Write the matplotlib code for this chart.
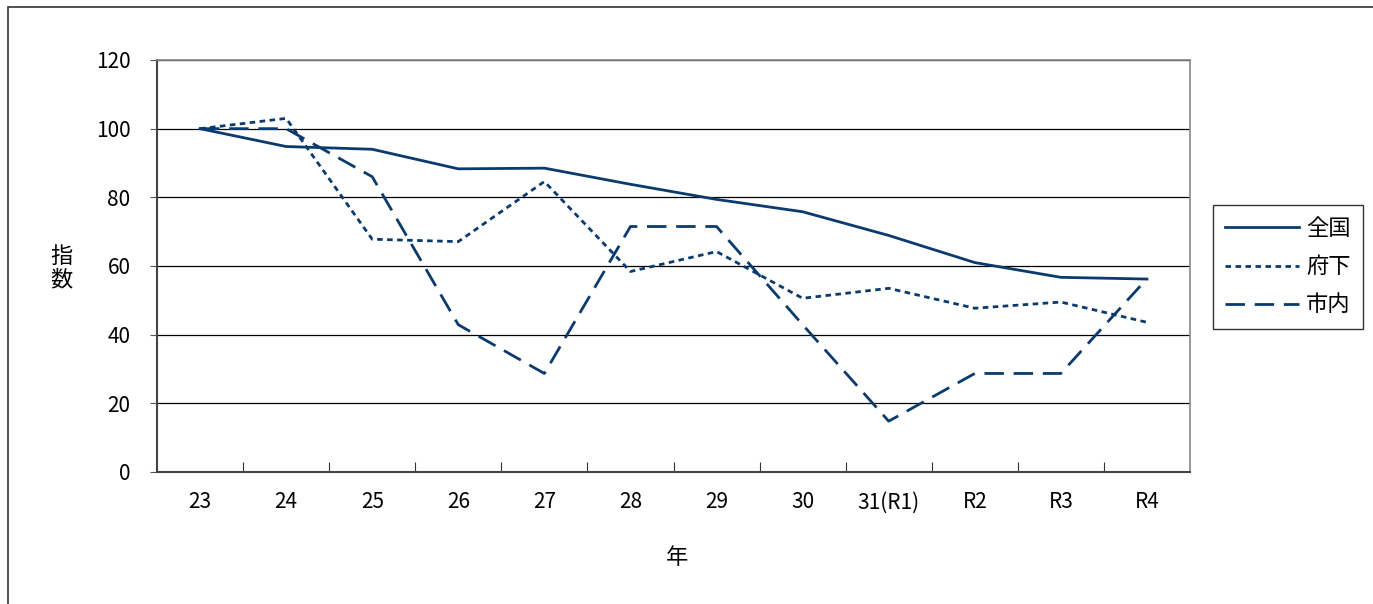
import matplotlib
matplotlib.use('Agg')
import matplotlib.pyplot as plt
from matplotlib.patches import Rectangle

plt.rcParams['font.family'] = ['Noto Sans CJK JP', 'DejaVu Sans']

# --- données (indice, base 23 = 100) ---
years = ['23', '24', '25', '26', '27', '28', '29', '30', '31(R1)', 'R2', 'R3', 'R4']
zenkoku = [100, 94.8, 94.0, 88.3, 88.5, 83.8, 79.4, 75.8, 68.9, 61.0, 56.7, 56.2]
fuka = [100, 103.0, 67.8, 67.1, 84.6, 58.4, 64.2, 50.6, 53.5, 47.7, 49.5, 43.6]
shinai = [100, 100, 86.0, 42.9, 28.7, 71.5, 71.5, 42.9, 14.8, 28.7, 28.7, 56.3]

y_ticks = [0, 20, 40, 60, 80, 100, 120]
line_color = '#0b3a6e'

fig = plt.figure(figsize=(13.73, 6.04), dpi=100)
ax = fig.add_axes([157 / 1373, 1 - 472 / 604, 1033 / 1373, 412 / 604])

# cadre extérieur
fig.patches.append(Rectangle((8 / 1373, -0.01), 1.0, 1 - 7 / 604 + 0.01,
                             transform=fig.transFigure, fill=False,
                             edgecolor='#333333', linewidth=1.2))

x = list(range(len(years)))
ax.plot(x, zenkoku, color=line_color, linewidth=2, label='全国', zorder=3)
ax.plot(x, fuka, color=line_color, linewidth=2, linestyle=(0, (2, 1.6)), label='府下', zorder=3)
ax.plot(x, shinai, color=line_color, linewidth=2, linestyle=(0, (7, 3.5)), label='市内', zorder=3)

ax.set_xlim(-0.5, len(years) - 0.5)
ax.set_ylim(0, 120)
ax.set_yticks(y_ticks)
ax.set_yticklabels([str(v) for v in y_ticks], fontsize=15)
ax.yaxis.grid(True, color='black', linewidth=0.9)
ax.set_axisbelow(True)

# ticks entre catégories, labels au centre
ax.set_xticks([i + 0.5 for i in range(len(years) - 1)])
ax.set_xticklabels([])
ax.set_xticks(x, minor=True)
ax.set_xticklabels(years, minor=True, fontsize=15)
ax.tick_params(axis='x', which='major', direction='in', length=7, color='#333333')
ax.tick_params(axis='x', which='minor', length=0, pad=14)
ax.tick_params(axis='y', length=5, color='#555555', pad=14)

for side in ['top', 'right']:
    ax.spines[side].set_color('#888888')
    ax.spines[side].set_linewidth(1.2)
for side in ['left', 'bottom']:
    ax.spines[side].set_color('#444444')
    ax.spines[side].set_linewidth(1.5)

fig.text(61 / 1373, 1 - 268 / 604, '指\n数', fontsize=16, ha='center', va='center',
         linespacing=1.05)
fig.text(677 / 1373, 1 - 557 / 604, '年', fontsize=16, ha='center', va='center')

leg = ax.legend(loc='upper left', bbox_to_anchor=(1213 / 1373, 1 - 205 / 604),
                bbox_transform=fig.transFigure, fontsize=16, frameon=True,
                fancybox=False, edgecolor='black', handlelength=3.3,
                handletextpad=0.35, borderpad=0.55, labelspacing=0.68,
                borderaxespad=0)
leg.get_frame().set_linewidth(1.0)

fig.savefig('out.png', dpi=100)
